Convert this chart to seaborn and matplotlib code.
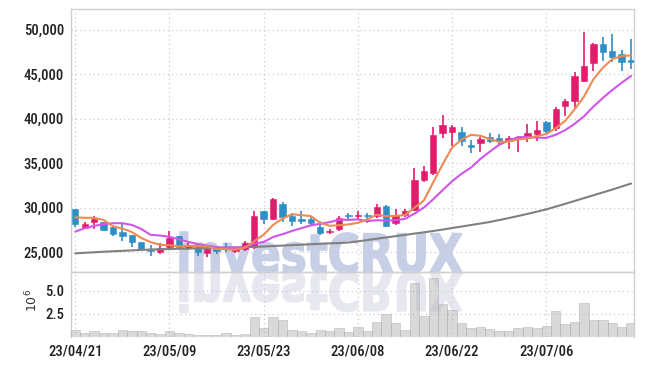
import numpy as np
import pandas as pd
import matplotlib
matplotlib.use("Agg")
import matplotlib.pyplot as plt
import seaborn as sns
from matplotlib.textpath import TextPath
from matplotlib.patches import PathPatch
from matplotlib.font_manager import FontProperties, fontManager
from matplotlib.transforms import Affine2D

# ---------------- data ----------------
tick_pos = [0, 10, 20, 30, 40, 50]
tick_labels = ["23/04/21", "23/05/09", "23/05/23", "23/06/08", "23/06/22", "23/07/06"]

opens = [29830, 27780, 28450, 28380, 27890, 27300, 26960, 26170, 25310, 25090,
         25650, 26850, 25470, 25650, 24980, 25470, 25530, 25200, 25390, 25650,
         29690, 28720, 30430, 29120, 28720, 28750, 27820, 27260, 27630, 29180,
         29030, 29180, 29090, 30160, 28340, 29200, 29760, 33150, 33960, 38390,
         38520, 38520, 37040, 37260, 37940, 37830, 37530, 37720, 37790, 38240,
         39660, 38980, 41420, 41990, 44300, 46320, 48380, 47590, 47260, 46580]
highs = [29880, 28420, 29090, 28450, 27890, 28230, 26960, 26170, 25830, 26030,
         27410, 26850, 26100, 25920, 25650, 25730, 26100, 25530, 26290, 29650,
         29690, 31100, 30690, 29390, 29650, 28980, 28560, 27600, 29030, 29430,
         29680, 29390, 30420, 30280, 29830, 29830, 34460, 34680, 39060, 40440,
         39320, 39130, 37640, 38010, 38390, 38240, 38050, 38050, 39360, 39730,
         39730, 41340, 42210, 45270, 49760, 48560, 49200, 49570, 47700, 48940]
lows = [27830, 27630, 27600, 27410, 26880, 26320, 25580, 25280, 24640, 24830,
        25470, 25470, 25280, 24610, 24530, 24830, 25090, 24980, 25170, 25430,
        28190, 28650, 28450, 27970, 28160, 28080, 26960, 27040, 27430, 28530,
        28730, 28280, 28830, 27830, 28080, 28940, 29590, 32850, 33710, 37830,
        36890, 36890, 36150, 36220, 37260, 37120, 36660, 36290, 37420, 37530,
        38350, 38650, 40300, 41150, 44150, 45350, 46470, 46390, 45350, 45570]
closes = [28180, 28190, 28720, 27550, 27040, 26880, 26210, 25390, 25200, 25540,
          26660, 25580, 25730, 25020, 25360, 25200, 25430, 25470, 26100, 29120,
          28750, 30990, 29010, 28560, 28560, 28270, 27220, 27330, 28830, 29030,
          29180, 29080, 30060, 27970, 29200, 29650, 33150, 34150, 38200, 39320,
          39060, 37560, 36830, 37710, 37460, 37490, 37790, 37940, 38350, 38730,
          38650, 41080, 41990, 44820, 45910, 48380, 47510, 46950, 46390, 46390]
# volume in millions
volumes = [0.78, 0.50, 0.68, 0.46, 0.46, 0.78, 0.68, 0.68, 0.46, 0.35,
           0.68, 0.46, 0.32, 0.21, 0.21, 0.21, 0.46, 0.25, 0.35, 2.15,
           1.00, 2.15, 1.82, 0.78, 0.68, 0.46, 0.78, 0.68, 0.96, 0.57,
           1.07, 0.68, 1.64, 2.50, 1.53, 0.78, 5.79, 2.29, 6.33, 3.57,
           2.93, 1.53, 1.00, 1.10, 0.89, 0.68, 0.68, 1.00, 1.10, 1.00,
           1.21, 2.82, 1.43, 1.64, 3.71, 1.86, 1.86, 1.53, 1.10, 1.53]
# first moving-average values (they depend on days before the window)
ma5_first = [28930, 28880, 28880, 28640]
ma10_first = [27330, 27710, 27970, 28160, 28270, 28270, 28080, 27630, 26960]
ma60 = [24890, 24950, 25010, 25070, 25120, 25170, 25220, 25270, 25320, 25350,
        25370, 25400, 25430, 25450, 25480, 25500, 25530, 25550, 25580, 25610,
        25660, 25710, 25760, 25810, 25860, 25910, 25960, 26010, 26050, 26100,
        26240, 26380, 26530, 26670, 26820, 26960, 27110, 27250, 27400, 27560,
        27730, 27900, 28070, 28240, 28410, 28630, 28850, 29080, 29320, 29570,
        29830, 30140, 30450, 30770, 31090, 31410, 31730, 32050, 32390, 32730]

# ---------------- derived ----------------
n = len(closes)
x = np.arange(n)
df = pd.DataFrame({"x": x, "open": opens, "high": highs, "low": lows,
                   "close": closes, "vol": volumes, "ma60": ma60})
ma5 = df["close"].rolling(5).mean().to_numpy()
ma5[:len(ma5_first)] = ma5_first
ma10 = df["close"].rolling(10).mean().to_numpy()
ma10[:len(ma10_first)] = ma10_first
df["ma5"] = ma5
df["ma10"] = ma10

UP = "#e21b6c"
DOWN = "#2d8fc6"
up = df["close"] >= df["open"]
cols = np.where(up, UP, DOWN)

# ---------------- style ----------------
sns.set_theme(style="white")
installed = {f.name for f in fontManager.ttflist}
fams = [f for f in ["Roboto Condensed", "Liberation Sans Narrow", "Roboto", "DejaVu Sans"]
        if f in installed] or ["DejaVu Sans"]
plt.rcParams["font.family"] = fams
TICK_COLOR = "#222222"
GRID_COLOR = "#c8cad8"
SPINE_COLOR = "#d0d0d0"
condensed = fams[0] in ("Roboto Condensed", "Liberation Sans Narrow")
LABEL_SIZE = 10.5 if condensed else 9.6

W, H = 645, 366
fig = plt.figure(figsize=(W / 100, H / 100), dpi=100)
fig.patch.set_facecolor("white")

ax = fig.add_axes([71 / W, 1 - 272.3 / H, 563 / W, 263.3 / H])
axv = fig.add_axes([71 / W, 1 - 337.3 / H, 563 / W, 65 / H])
for a in (ax, axv):
    a.set_facecolor("none")

# ---------------- watermark ----------------
fp = FontProperties(family="DejaVu Sans", weight="heavy")
tp = TextPath((0, 0), "investCRUX", size=1, prop=fp)
ext = tp.get_extents()
x0, x1 = 180, 462
ytop, ybase = 232, 272.5
sx = (x1 - x0) / (ext.x1 - ext.x0)
sy = (ybase - ytop) / ext.y1
tr_up = (Affine2D().translate(-ext.x0, 0).scale(sx, sy)
         .translate(x0, H - ybase).scale(1 / W, 1 / H))
tr_dn = (Affine2D().translate(-ext.x0, 0).scale(sx, -sy * 0.97)
         .translate(x0, H - ybase - 0.5).scale(1 / W, 1 / H))
fig.add_artist(PathPatch(tp, transform=tr_up + fig.transFigure,
                         fc="#c7cfe6", ec="#c7cfe6", lw=1.2, zorder=-2))
fig.add_artist(PathPatch(tp, transform=tr_dn + fig.transFigure,
                         fc="#e6e7ef", ec="#e6e7ef", lw=1.2, zorder=-2))

# ---------------- price panel ----------------
xlim = (-0.456, 59.31)
body = (df["close"] - df["open"]).abs().clip(lower=120)
bottom = df[["open", "close"]].min(axis=1)
ax.vlines(x, df["low"], df["high"], colors=cols, lw=1.2, zorder=3)
ax.bar(x, body, bottom=bottom, width=0.68, color=cols, edgecolor=cols,
       linewidth=0.4, zorder=4)

sns.lineplot(data=df, x="x", y="ma60", ax=ax, color="#808080", lw=1.5, zorder=5)
sns.lineplot(data=df, x="x", y="ma10", ax=ax, color="#cf55ec", lw=1.5, zorder=5)
sns.lineplot(data=df, x="x", y="ma5", ax=ax, color="#ef8a55", lw=1.5, zorder=6)

ax.set_xlim(*xlim)
ax.set_ylim(22760, 52330)
yt = [25000, 30000, 35000, 40000, 45000, 50000]
ax.set_yticks(yt)
ax.set_yticklabels([f"{v:,}" for v in yt])
ax.set_xticks(tick_pos)
ax.set_xticklabels([])
ax.set_xlabel("")
ax.set_ylabel("")
ax.grid(True, color=GRID_COLOR, lw=0.9, ls=(0, (1, 2.5)))
ax.set_axisbelow(True)
ax.tick_params(length=0, labelsize=LABEL_SIZE, colors=TICK_COLOR, pad=5)
for s in ["left", "top", "right", "bottom"]:
    ax.spines[s].set_color(SPINE_COLOR)
    ax.spines[s].set_linewidth(1.0)

# ---------------- volume panel ----------------
axv.bar(x, df["vol"], width=1.0, color="#b4b4b4", alpha=0.5,
        edgecolor="#a8a8a8", linewidth=0.6, zorder=3)
axv.set_xlim(*xlim)
axv.set_ylim(0, 6.97)
axv.set_yticks([2.5, 5.0])
axv.set_yticklabels(["2.5", "5.0"])
axv.set_xticks(tick_pos)
axv.set_xticklabels(tick_labels)
axv.grid(True, color=GRID_COLOR, lw=0.9, ls=(0, (1, 2.5)))
axv.set_axisbelow(True)
axv.tick_params(length=0, labelsize=LABEL_SIZE, colors=TICK_COLOR, pad=5)
for s in ["left", "top", "right"]:
    axv.spines[s].set_color(SPINE_COLOR)
    axv.spines[s].set_linewidth(1.0)
axv.spines["bottom"].set_visible(False)

for lab in ax.get_yticklabels() + axv.get_yticklabels() + axv.get_xticklabels():
    lab.set_fontweight("medium")

fig.text(32 / W, 1 - 300 / H, r"$10^6$", rotation=90, ha="center", va="center",
         fontsize=9, color="#333333")

fig.savefig("out.png", dpi=100, facecolor="white")
